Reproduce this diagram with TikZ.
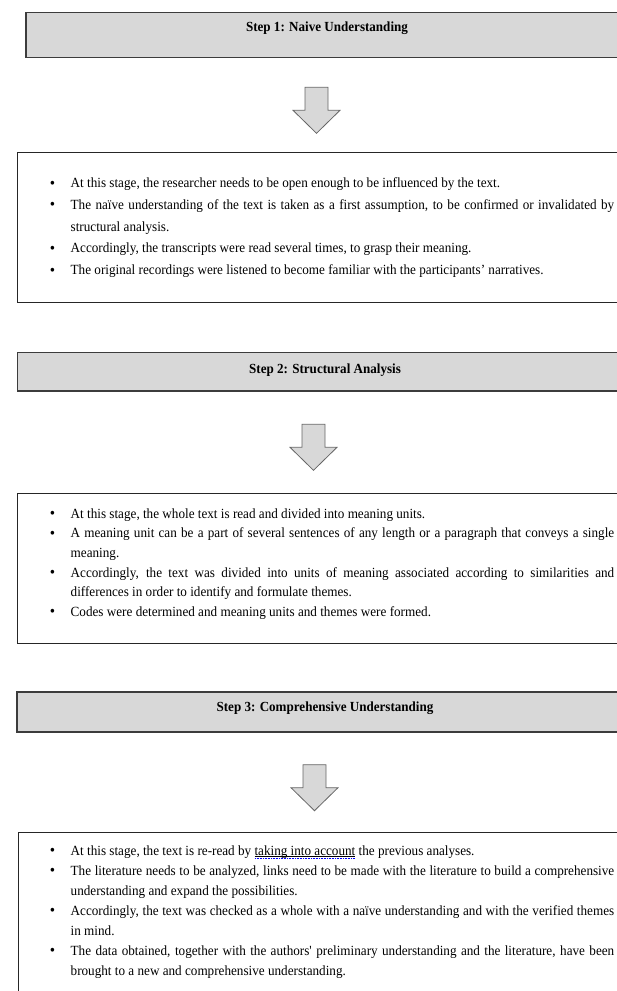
\documentclass[tikz,border=0pt]{standalone}
\usepackage{fontspec}
\setmainfont{Liberation Serif}[FakeStretch=0.94]
\definecolor{hdgray}{HTML}{D8D8D8}
\definecolor{edgegray}{HTML}{3C3C3C}
\newsavebox\spellbox
\newcommand\spellchk[1]{\sbox\spellbox{#1}%
  \rlap{\raisebox{-1.6pt}[0pt][0pt]{\rule{\wd\spellbox}{0.5pt}}}%
  \rlap{\raisebox{-3.4pt}[0pt][0pt]{\color{blue}\leaders\hbox to 1.6pt{\hss\rule{0.8pt}{0.7pt}\hss}\hskip\wd\spellbox}}%
  \usebox\spellbox}
\newcommand\bul{\llap{\raisebox{-0.4pt}{\fontsize{16}{16}\selectfont\textbullet}\hskip 15.5pt}}
\newcommand\jline[1]{\makebox[543.5pt][s]{#1}}
\begin{document}
\begin{tikzpicture}[x=1pt, y=-1pt,
    hdbox/.style={draw=edgegray, fill=hdgray, line width=1.1pt},
    txbox/.style={draw=black!85, line width=0.9pt},
    blockarr/.style={draw=black!60, fill=hdgray, line width=0.8pt, line join=miter},
    steptitle/.style={font=\fontsize{13.9}{15}\selectfont\bfseries, inner sep=0pt},
    itemlist/.style={anchor=base west, inner sep=0pt, text width=543.5pt, align=justify,
      font=\fontsize{14}{#1}\selectfont}]
  \useasboundingbox (0,0) rectangle (617,991);
  \clip (0,0) rectangle (617,991);
  \draw[hdbox] (26,12.7) rectangle (640,57.3);
  \draw[hdbox] (17.5,352.5) rectangle (640,391);
  \draw[hdbox] (17,692) rectangle (640,732);
  \draw[txbox] (17.3,152.7) rectangle (640,302.7);
  \draw[txbox] (17,493) rectangle (640,643);
  \draw[txbox] (18.3,832) rectangle (640,1000);
  \foreach \x/\y in {316.5/87.3, 313.5/424.3, 314.5/764.7}
    \draw[blockarr] (\x-11.5,\y) -- (\x+11.5,\y) -- (\x+11.5,\y+23) -- (\x+23.5,\y+23)
      -- (\x,\y+46) -- (\x-23.5,\y+23) -- (\x-11.5,\y+23) -- cycle;
  \node[steptitle] (st1) at (327,28.3) {Step 1: Naive Understanding};
  \node[steptitle] (st2) at (325,370.5) {Step 2: Structural Analysis};
  \node[steptitle] (st3) at (325,708.3) {Step 3: Comprehensive Understanding};
  \node[itemlist=21.7pt] (lst1) at (70.5,187.8) {%
    \bul At this stage, the researcher needs to be open enough to be influenced by the text.\\
    \bul\jline{The naïve understanding of the text is taken as a first assumption, to be confirmed or invalidated by}\\
    structural analysis.\\
    \bul Accordingly, the transcripts were read several times, to grasp their meaning.\\
    \bul The original recordings were listened to become familiar with the participants’ narratives.};
  \node[itemlist=19.6pt] (lst2) at (70.5,518.3) {%
    \bul At this stage, the whole text is read and divided into meaning units.\\
    \bul\jline{A meaning unit can be a part of several sentences of any length or a paragraph that conveys a single}\\
    meaning.\\
    \bul\jline{Accordingly, the text was divided into units of meaning associated according to similarities and}\\
    differences in order to identify and formulate themes.\\
    \bul Codes were determined and meaning units and themes were formed.};
  \node[itemlist=20pt] (lst3) at (70.5,855) {%
    \bul At this stage, the text is re-read by \spellchk{taking into account} the previous analyses.\\
    \bul\jline{The literature needs to be analyzed, links need to be made with the literature to build a comprehensive}\\
    understanding and expand the possibilities.\\
    \bul\jline{Accordingly, the text was checked as a whole with a naïve understanding and with the verified themes}\\
    in mind.\\
    \bul\jline{The data obtained, together with the authors\textquotesingle{} preliminary understanding and the literature, have been}\\
    brought to a new and comprehensive understanding.};
\end{tikzpicture}
\end{document}
